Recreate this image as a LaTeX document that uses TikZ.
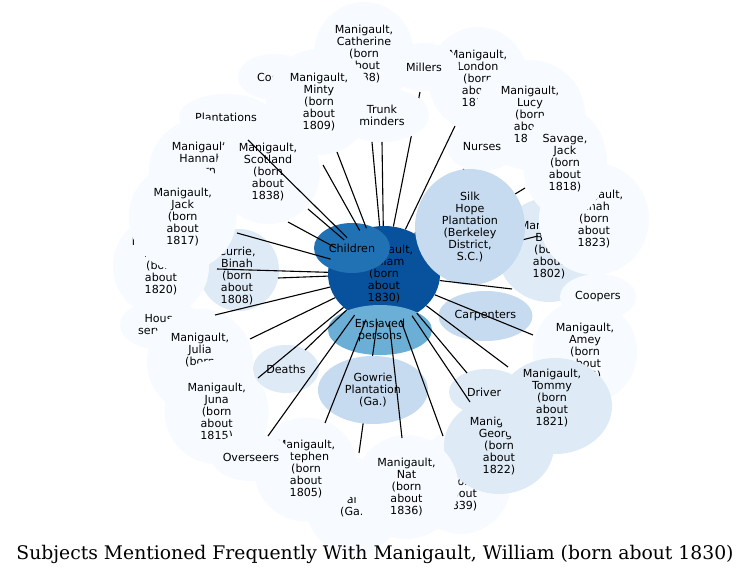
\documentclass[tikz,border=0pt]{standalone}
\usepackage{fontspec}
\setmainfont{DejaVu Sans}
\newfontfamily\ttlfont{DejaVu Serif}
\usetikzlibrary{shapes.geometric}
\definecolor{bA}{HTML}{F7FBFF}
\definecolor{bB}{HTML}{DEEBF7}
\definecolor{bC}{HTML}{C6DBEF}
\definecolor{bE}{HTML}{6BAED6}
\definecolor{bG}{HTML}{2171B5}
\definecolor{bH}{HTML}{08519C}
\newcommand\lblsize{\fontsize{11.1pt}{12pt}\selectfont}
\tikzset{
  bub/.style={ellipse, inner sep=0pt, align=center, font=\lblsize, draw=none, text=black},
  lt/.style={bub, fill=bA},
  md/.style={bub, fill=bB},
  mm/.style={bub, fill=bC},
  rad/.style 2 args={minimum width={2*#1pt}, minimum height={2*#2pt}},
  edgeln/.style={draw=black, line width=1.1pt},
}
\begin{document}
\begin{tikzpicture}[x=1pt, y=-1pt]
\useasboundingbox[fill=white] (0,0) rectangle (756,575);
% edge end points
\coordinate (eMinty) at (337,152);
\coordinate (eCooks) at (323,165);
\coordinate (ePlant) at (248,140);
\coordinate (eHannah) at (288,222);
\coordinate (eScot) at (308,209);
\coordinate (eJack) at (237,233);
\coordinate (ePeggy) at (217,269);
\coordinate (eCurrie) at (278,278);
\coordinate (eHouse) at (215,315);
\coordinate (eJulia) at (250,339);
\coordinate (eJuna) at (258,378);
\coordinate (eDeaths) at (305,350);
\coordinate (eOver) at (268,436);
\coordinate (eStephen) at (325,423);
\coordinate (eGa) at (359,453);
\coordinate (eNat) at (402,438);
\coordinate (eRose) at (443,436);
\coordinate (eGeorge) at (470,402);
\coordinate (eDrivers) at (467,373);
\coordinate (eTommy) at (508,367);
\coordinate (eAmey) at (533,335);
\coordinate (eCoopers) at (512,289);
\coordinate (eBinah) at (538,236);
\coordinate (eSavage) at (525,188);
\coordinate (eNurses) at (464,169);
\coordinate (eLondon) at (455,126);
\coordinate (eMillers) at (420,92);
\coordinate (eTrunk) at (382,142);
\coordinate (eCath) at (372,142);

% bubbles, back to front
\node[lt, rad={50}{52}] (cath) at (364,54) {Manigault,\\Catherine\\(born\\about\\1838)};
\node[lt, rad={36}{23}] (cooks) at (274,77) {Cooks};
\node[lt, rad={53}{53}] (minty) at (319,102) {Manigault,\\Minty\\(born\\about\\1809)};
\node[lt, rad={50}{52}] (london) at (478,79) {Manigault,\\London\\(born\\about\\1810)};
\node[lt, rad={35}{24}] (millers) at (424,67) {Millers};
\node[lt, rad={55}{55}] (lucy) at (530,115) {Manigault,\\Lucy\\(born\\about\\1812)};
\node[lt, rad={35}{24}] (nurses) at (482,147) {Nurses};
\node[md, rad={52}{52}] (bella) at (549,250) {Manigault,\\Bella\\(born\\about\\1802)};
\node[lt, rad={55}{56}] (binah) at (594,219) {Manigault,\\Binah\\(born\\about\\1823)};
\node[lt, rad={42}{55}] (savage) at (565,163) {Savage,\\Jack\\(born\\about\\1818)};
\node[lt, rad={52}{52}] (amey) at (585,352) {Manigault,\\Amey\\(born\\about\\1825)};
\node[lt, rad={38}{23}] (coopers) at (598,297) {Coopers};
\node[lt, rad={47}{23}] (plant) at (226,117) {Plantations};
\node[lt, rad={52}{52}] (hannah) at (201,171) {Manigault,\\Hannah\\(born\\about\\1812)};
\node[lt, rad={52}{52}] (scot) at (268,172) {Manigault,\\Scotland\\(born\\about\\1838)};
\node[md, rad={40}{41}] (curriebub) at (239,270) {};
\node[bub] (currie) at (237,276) {Currie,\\Binah\\(born\\about\\1808)};
\node[lt, rad={48}{50}] (peggy) at (161,266) {Manigault,\\Peggy\\(born\\about\\1820)};
\node[lt, rad={54}{54}] (jack) at (182.7,217) {Manigault,\\Jack\\(born\\about\\1817)};
\node[lt, rad={42}{25}] (house) at (162,325) {House\\servants};
\node[lt, rad={53}{53}] (julia) at (200,362) {Manigault,\\Julia\\(born\\about\\1812)};
\node[lt, rad={52}{52}] (juna) at (216.7,412) {Manigault,\\Juna\\(born\\about\\1815)};
\node[md, rad={33}{24}] (deaths) at (286,369) {Deaths};
\node[md, rad={38}{23}] (drivers) at (487,392) {Drivers};
\node[lt, rad={50}{52}] (rose) at (461,482) {Manigault,\\Rose\\(born\\about\\1839)};
\node[md, rad={55}{48}] (george) at (499,446) {Manigault,\\George\\(born\\about\\1822)};
\node[md, rad={57}{48}] (tommybub) at (555,406) {};
\node[bub] (tommy) at (552,398) {Manigault,\\Tommy\\(born\\about\\1821)};
\node[lt, rad={48}{48}] (ga) at (354,506) {Savannah\\(Ga.)};
\node[lt, rad={52}{52}] (stephen) at (306,469.5) {Manigault,\\Stephen\\(born\\about\\1805)};
\node[lt, rad={39}{24}] (over) at (251,457) {Overseers};
\node[lt, rad={52}{52}] (nat) at (406.5,487) {Manigault,\\Nat\\(born\\about\\1836)};
\node[mm, rad={47}{25}] (carp) at (485.5,316) {Carpenters};
\node[bub, fill=bH, rad={56}{48}] (W) at (384,274) {Manigault,\\William\\(born\\about\\1830)};
\node[bub, fill=bG, rad={38}{25}] (children) at (352,248) {Children};
\node[bub, fill=bE, rad={52}{25}] (enslaved) at (380,330) {Enslaved\\persons};
\draw[edgeln] (W) -- (eGa);
\node[mm, rad={55}{34}] (gowrie) at (373,390) {Gowrie\\Plantation\\(Ga.)};
\draw[edgeln] (W) -- (eMillers);
\draw[edgeln] (W) -- (eNurses);
\draw[edgeln] (W) -- (eSavage);
\draw[edgeln] (W) -- (eBinah);
\node[lt, rad={47}{27}] (trunk) at (382,115) {Trunk\\minders};
\node[mm, rad={55}{58}] (silk) at (470,227) {Silk\\Hope\\Plantation\\(Berkeley\\District,\\S.C.)};
% visible connectors
\foreach \e in {eMinty,eCooks,ePlant,eHannah,eScot,eJack,ePeggy,eCurrie,eHouse,eJulia,eJuna,eDeaths,eOver,eStephen,eNat,eRose,eGeorge,eDrivers,eTommy,eAmey,eCoopers,eLondon,eTrunk,eCath}
  \draw[edgeln] (W) -- (\e);
\node[font=\ttlfont\fontsize{18.77pt}{22pt}\selectfont, anchor=base, inner sep=0pt] (title) at (375,559) {Subjects Mentioned Frequently With Manigault, William (born about 1830)};
\end{tikzpicture}
\end{document}
